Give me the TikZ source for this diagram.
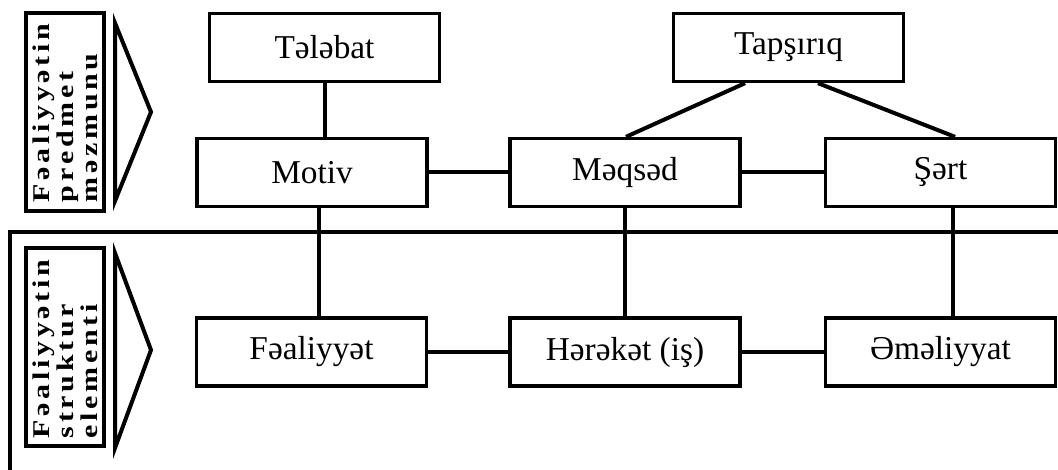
\documentclass[tikz,border=0pt]{standalone}
\usepackage{graphicx}
\usepackage{fontspec}
\setmainfont{Liberation Serif}
\makeatletter
\newcommand\spw[1]{\scalebox{1.25}[1]{\@tfor\spwch:=#1\do{\spwch\kern2.2pt}\unkern}}
\makeatother
\newcommand\labtext[3]{\bfseries\fontsize{18}{18}\selectfont
  \begin{tabular}{@{}l@{}}\spw{#1}\\\spw{#2}\\\spw{#3}\end{tabular}}
\begin{document}
\begin{tikzpicture}[x=0.75pt,y=-0.75pt,line width=2.5pt,
  elem/.style={draw,rectangle,line width=2.5pt,minimum width=172.5pt,minimum height=51pt,inner sep=0pt,
    font=\fontsize{25}{30}\selectfont},
  lab/.style={draw,rectangle,line width=3pt,minimum width=59pt,minimum height=148.5pt,inner sep=0pt},
  labtxt/.style={rotate=90,inner sep=0pt},
  tri/.style={draw,line width=3pt,line join=miter},
  conn/.style={draw,line width=3pt}]
\useasboundingbox (0,0) rectangle (1058,470);
% frame of the lower section
\draw (1062,232) coordinate (fr) -- (10,232) -- (10,474);
% side labels
\node[lab] (lab1) at (65,112) {};
\node[labtxt] (lab1t) at (69,113) {\labtext{Fəaliyyətin}{predmet}{məzmunu}};
\node[lab] (lab2) at (65,347) {};
\node[labtxt] (lab2t) at (69,349) {\labtext{Fəaliyyətin}{struktur}{elementi}};
\draw[tri] (115,23) -- (151,112) -- (115,201) -- cycle;
\draw[tri] (115,253) -- (151,350) -- (115,448) -- cycle;
% nodes
\node[elem] (telebat) at (324.5,47.5) {Tələbat};
\node[elem] (tapsiriq) at (788.5,47.5) {Tapşırıq};
\node[elem] (motiv) at (312,172.5) {Motiv};
\node[elem] (meqsed) at (625,172.5) {Məqsəd};
\node[elem] (sert) at (940.5,172.5) {Şərt};
\node[elem] (fealiyyet) at (311.5,352) {Fəaliyyət};
\node[elem] (hereket) at (625,352) {Hərəkət (iş)};
\node[elem] (emeliyyat) at (940.5,352) {Əməliyyat};
% connectors
\draw[conn] (telebat.south) -- (telebat.south |- motiv.north);
\draw[conn] ([xshift=-32.6pt]tapsiriq.south) -- ([xshift=0.75pt]meqsed.north);
\draw[conn] ([xshift=22.1pt]tapsiriq.south) -- ([xshift=10.9pt]sert.north);
\draw[conn] (motiv.east) -- (meqsed.west);
\draw[conn] (meqsed.east) -- (sert.west);
\draw[conn] ([xshift=5.2pt]motiv.south) -- ([xshift=5.2pt]motiv.south |- fealiyyet.north);
\draw[conn] (meqsed.south) -- (hereket.north);
\draw[conn] ([xshift=9.4pt]sert.south) -- ([xshift=9.4pt]sert.south |- emeliyyat.north);
\draw[conn] (fealiyyet.east) -- (hereket.west);
\draw[conn] (hereket.east) -- (emeliyyat.west);
\end{tikzpicture}
\end{document}
